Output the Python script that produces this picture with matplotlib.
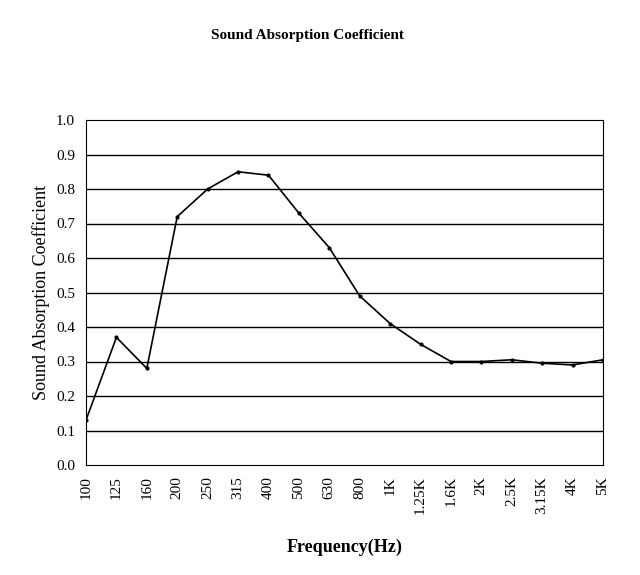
import matplotlib
matplotlib.use("Agg")
import matplotlib.pyplot as plt

freq_labels = ["100","125","160","200","250","315","400","500","630","800","1K","1.25K","1.6K","2K","2.5K","3.15K","4K","5K"]
coef = [0.13,0.37,0.28,0.72,0.80,0.85,0.84,0.73,0.63,0.49,0.41,0.35,0.30,0.30,0.305,0.295,0.29,0.305]
y_ticks = [0.0,0.1,0.2,0.3,0.4,0.5,0.6,0.7,0.8,0.9,1.0]

plt.rcParams['font.family'] = ['Liberation Serif', 'DejaVu Serif']
fig = plt.figure(figsize=(6.4,5.75), dpi=100)
ax = fig.add_axes([86/640, 1-465/575, (603-86)/640, (465-120)/575])
x = list(range(len(coef)))
ax.plot(x, coef, color='black', lw=1.2, marker='o', ms=2)
ax.set_xlim(0, len(coef)-1)
ax.set_ylim(0, 1.0)
ax.set_yticks(y_ticks)
ax.set_yticklabels([f"{v:.1f}" for v in y_ticks], fontsize=11)
ax.set_xticks(x)
ax.set_xticklabels(freq_labels, rotation=90, fontsize=11)
for v in y_ticks[1:-1]:
    ax.axhline(v, color='black', lw=1)
ax.tick_params(length=0, pad=8)
ax.set_ylabel("Sound Absorption Coefficient", fontsize=13)
ax.set_xlabel("Frequency(Hz)", fontsize=13, fontweight='bold', labelpad=18)
fig.text(0.48, 1-35/575, "Sound Absorption Coefficient", ha='center', va='center', fontsize=11, fontweight='bold')
fig.savefig("out.png", dpi=100)
